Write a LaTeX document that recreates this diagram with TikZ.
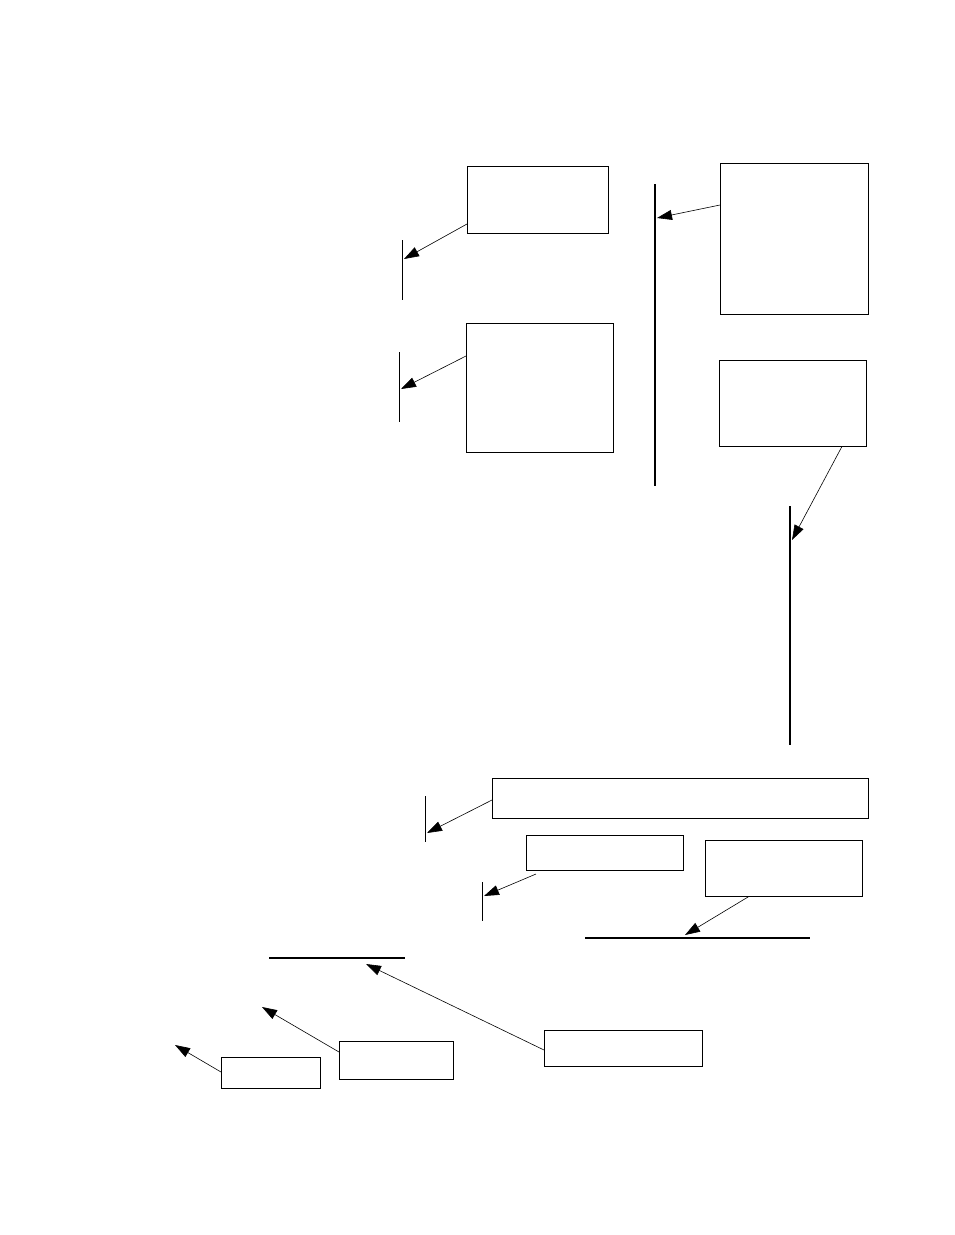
\documentclass[tikz,border=0pt]{standalone}
\usepackage{tikz}
\usetikzlibrary{arrows.meta,positioning}
\tikzset{
  box/.style={draw, inner sep=0pt, anchor=north west},
  bar/.style={line width=0.6pt},
  thickbar/.style={line width=1.4pt},
  callout/.style={line width=0.6pt, -{Triangle[length=15pt,width=10pt]}}
}
\begin{document}
\begin{tikzpicture}[x=1pt,y=-1pt]
\useasboundingbox (0,0) rectangle (954,1235);
% boxes
\node[box, minimum width=141pt, minimum height=67pt] (b1) at (467,166) {};
\node[box, minimum width=147pt, minimum height=129pt] (b2) at (466,323) {};
\node[box, minimum width=148pt, minimum height=151pt] (b3) at (720,163) {};
\node[box, minimum width=147pt, minimum height=86pt] (b4) at (719,360) {};
\node[box, minimum width=376pt, minimum height=40pt] (b5) at (492,778) {};
\node[box, minimum width=157pt, minimum height=35pt] (b6) at (526,835) {};
\node[box, minimum width=157pt, minimum height=56pt] (b7) at (705,840) {};
\node[box, minimum width=158pt, minimum height=36pt] (b8) at (544,1030) {};
\node[box, minimum width=114pt, minimum height=38pt] (b9) at (339,1041) {};
\node[box, minimum width=99pt, minimum height=31pt] (b10) at (221,1057) {};
% bars
\draw[bar] (402,240) -- (402,300);
\draw[bar] (399,352) -- (399,422);
\draw[thickbar] (655,184) -- (655,486);
\draw[thickbar] (790,506) -- (790,745);
\draw[bar] (425,796) -- (425,842);
\draw[bar] (482,882) -- (482,921);
\draw[thickbar] (585,938) -- (810,938);
\draw[thickbar] (269,958) -- (405,958);
% arrow targets
\coordinate (t1) at (404,259);
\coordinate (t2) at (401,389);
\coordinate (t3) at (657,218);
\coordinate (t4) at (792,540);
\coordinate (t5) at (427,833);
\coordinate (t6) at (484,896);
\coordinate (t7) at (685,935);
\coordinate (t8) at (366,964);
\coordinate (t9) at (262,1007);
\coordinate (t10) at (175,1045);
% callouts
\draw[callout] (b1.west |- 0,224) -- (t1);
\draw[callout] (b2.west |- 0,356) -- (t2);
\draw[callout] (b3.west |- 0,205) -- (t3);
\draw[callout] (b4.south -| 842,0) -- (t4);
\draw[callout] (b5.west |- 0,800) -- (t5);
\draw[callout] (536,874) -- (t6);
\draw[callout] (b7.south -| 749,0) -- (t7);
\draw[callout] (b8.west |- 0,1050) -- (t8);
\draw[callout] (b9.west |- 0,1052) -- (t9);
\draw[callout] (b10.west |- 0,1072) -- (t10);
\end{tikzpicture}
\end{document}
